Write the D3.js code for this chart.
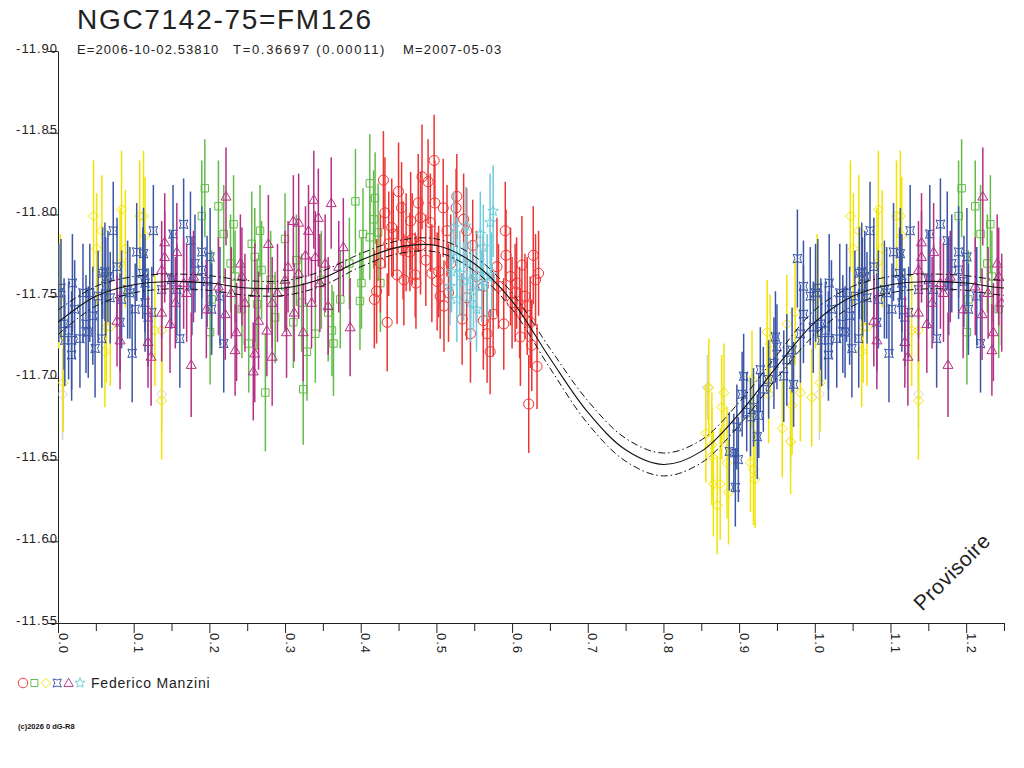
<!DOCTYPE html>
<html>
<head>
<meta charset="utf-8">
<script src="https://cdn.jsdelivr.net/npm/d3@7"></script>
<style>
	body { margin: 0; background: #fff; }
	text { font-family: "Liberation Sans", Arial, sans-serif; }
</style>
</head>
<body>
<svg id="chart" width="1024" height="768"></svg>
<script>
// ---- texts / ticks
const titleText = "NGC7142-75=FM126"
const subtitleParts = ["E=2006-10-02.53810", "T=0.36697 (0.00011)", "M=2007-05-03"]
const observerName = "Federico Manzini"
const copyText = "(c)2026 0 dG-R8"
const stampText = "Provisoire"
const yTicks = [-11.90, -11.85, -11.80, -11.75, -11.70, -11.65, -11.60, -11.55]
const xTicks = [0.0, 0.1, 0.2, 0.3, 0.4, 0.5, 0.6, 0.7, 0.8, 0.9, 1.0, 1.1, 1.2]
const xMinorTicks = [0.05, 0.15, 0.25, 0.35, 0.45, 0.55, 0.65, 0.75, 0.85, 0.95, 1.05, 1.15, 1.25]

// ---- model curve (phase, mag) + its two limits
const modelPhase = [0.00, 0.05, 0.10, 0.15, 0.20, 0.25, 0.30, 0.35, 0.40, 0.45,
	0.50, 0.55, 0.60, 0.65, 0.70, 0.75, 0.80, 0.85, 0.90, 0.95]
const modelMid = [-11.734, -11.750, -11.757, -11.759, -11.758, -11.755, -11.755, -11.761, -11.772, -11.780,
	-11.781, -11.770, -11.747, -11.712, -11.679, -11.656, -11.647, -11.655, -11.678, -11.707]
const modelBright = [-11.7415, -11.756, -11.762, -11.7635, -11.7625, -11.7595, -11.7595, -11.7655, -11.776, -11.784,
	-11.785, -11.7745, -11.752, -11.718, -11.686, -11.663, -11.654, -11.662, -11.685, -11.714]
const modelFaint = [-11.7265, -11.744, -11.752, -11.7545, -11.7535, -11.7505, -11.7505, -11.7565, -11.768, -11.776,
	-11.777, -11.7655, -11.742, -11.706, -11.672, -11.649, -11.640, -11.648, -11.671, -11.700]

// ---- observations [phase, mag, error]
const grayPts = [[0.006, -11.690, 0.028], [0.137, -11.690, 0.022], [0.858, -11.694, 0.020],
	[0.968, -11.661, 0.018], [0.245, -11.745, 0.025]]

const yellowPts = [[0.047, -11.799, 0.034], [0.084, -11.803, 0.036], [0.108, -11.799, 0.034], [0.113, -11.799, 0.040],
	[0.058, -11.790, 0.034], [0.115, -11.787, 0.036], [0.051, -11.779, 0.034], [0.089, -11.779, 0.036],
	[0.064, -11.731, 0.034], [0.069, -11.731, 0.036], [0.062, -11.716, 0.034], [0.007, -11.697, 0.030],
	[0.137, -11.686, 0.036], [0.128, -11.729, 0.034], [0.137, -11.729, 0.036], [0.001, -11.748, 0.030],
	[0.003, -11.756, 0.032], [0.082, -11.770, 0.034],
	[0.860, -11.694, 0.030], [0.856, -11.666, 0.030], [0.877, -11.682, 0.032], [0.880, -11.691, 0.030],
	[0.864, -11.659, 0.032], [0.864, -11.652, 0.030], [0.884, -11.648, 0.034], [0.866, -11.635, 0.032],
	[0.875, -11.635, 0.034], [0.871, -11.622, 0.030], [0.886, -11.630, 0.032], [0.915, -11.648, 0.030],
	[0.919, -11.644, 0.034], [0.921, -11.638, 0.030], [0.937, -11.728, 0.032], [0.941, -11.721, 0.030],
	[0.939, -11.690, 0.030], [0.963, -11.733, 0.030], [0.974, -11.740, 0.032], [0.981, -11.691, 0.030],
	[0.970, -11.683, 0.030], [0.957, -11.669, 0.030], [0.968, -11.661, 0.032], [0.996, -11.688, 0.030],
	[0.917, -11.699, 0.030]]

const greenPts = [[0.194, -11.816, 0.030], [0.212, -11.805, 0.028], [0.190, -11.799, 0.034], [0.232, -11.794, 0.030],
	[0.267, -11.790, 0.028], [0.219, -11.788, 0.030], [0.256, -11.782, 0.032], [0.300, -11.785, 0.028],
	[0.260, -11.774, 0.030], [0.269, -11.766, 0.030], [0.234, -11.762, 0.028], [0.203, -11.748, 0.030],
	[0.201, -11.728, 0.032], [0.311, -11.734, 0.028], [0.329, -11.716, 0.030], [0.324, -11.693, 0.034],
	[0.274, -11.691, 0.036], [0.252, -11.721, 0.030], [0.287, -11.737, 0.028], [0.340, -11.727, 0.030],
	[0.300, -11.756, 0.028], [0.322, -11.746, 0.030], [0.362, -11.729, 0.028], [0.412, -11.819, 0.030],
	[0.393, -11.808, 0.032], [0.419, -11.810, 0.028], [0.417, -11.797, 0.030], [0.403, -11.788, 0.028],
	[0.423, -11.789, 0.030], [0.412, -11.786, 0.026], [0.426, -11.758, 0.030], [0.401, -11.758, 0.028],
	[0.399, -11.747, 0.030], [0.364, -11.721, 0.032], [0.373, -11.748, 0.030], [0.243, -11.742, 0.030],
	[0.281, -11.760, 0.030], [0.315, -11.772, 0.028], [0.348, -11.760, 0.030], [0.385, -11.770, 0.028],
	[0.228, -11.770, 0.030], [0.263, -11.745, 0.028], [0.357, -11.740, 0.030]]

const bluePts = [[0.073, -11.790, 0.030], [0.126, -11.790, 0.028], [0.152, -11.788, 0.030], [0.166, -11.794, 0.028],
	[0.175, -11.784, 0.030], [0.104, -11.777, 0.030], [0.113, -11.776, 0.028], [0.062, -11.765, 0.030],
	[0.078, -11.768, 0.030], [0.066, -11.762, 0.028], [0.019, -11.758, 0.030], [0.033, -11.752, 0.030],
	[0.053, -11.750, 0.028], [0.042, -11.752, 0.030], [0.001, -11.752, 0.030], [0.022, -11.742, 0.030],
	[0.102, -11.742, 0.028], [0.082, -11.734, 0.030], [0.119, -11.737, 0.030], [0.014, -11.729, 0.030],
	[0.009, -11.723, 0.028], [0.018, -11.723, 0.030], [0.029, -11.724, 0.030], [0.040, -11.728, 0.028],
	[0.058, -11.724, 0.030], [0.049, -11.718, 0.030], [0.018, -11.714, 0.028], [0.098, -11.715, 0.030],
	[0.161, -11.724, 0.030], [0.124, -11.740, 0.028], [0.181, -11.770, 0.030], [0.190, -11.777, 0.028],
	[0.201, -11.774, 0.030], [0.190, -11.766, 0.030], [0.197, -11.759, 0.028], [0.177, -11.756, 0.030],
	[0.150, -11.760, 0.030], [0.157, -11.754, 0.028], [0.137, -11.754, 0.030], [0.115, -11.758, 0.030],
	[0.095, -11.752, 0.028], [0.084, -11.748, 0.030], [0.115, -11.746, 0.030], [0.069, -11.749, 0.028],
	[0.219, -11.721, 0.030], [0.214, -11.750, 0.030], [0.203, -11.742, 0.028], [0.004, -11.755, 0.030],
	[0.059, -11.764, 0.028], [0.063, -11.756, 0.030], [0.092, -11.754, 0.030], [0.112, -11.764, 0.028],
	[0.046, -11.738, 0.030], [0.037, -11.733, 0.030], [0.008, -11.733, 0.028],
	[0.895, -11.633, 0.024], [0.899, -11.650, 0.026], [0.893, -11.654, 0.024], [0.897, -11.670, 0.026],
	[0.915, -11.676, 0.024], [0.926, -11.677, 0.026], [0.910, -11.679, 0.024], [0.904, -11.690, 0.026],
	[0.919, -11.682, 0.024], [0.932, -11.693, 0.026], [0.939, -11.699, 0.024], [0.928, -11.705, 0.026],
	[0.946, -11.709, 0.028], [0.950, -11.719, 0.026], [0.963, -11.711, 0.028], [0.970, -11.717, 0.026],
	[0.959, -11.701, 0.028], [0.972, -11.696, 0.026], [0.948, -11.725, 0.028], [0.985, -11.739, 0.030],
	[0.998, -11.731, 0.028], [0.994, -11.750, 0.030], [0.985, -11.756, 0.028], [0.981, -11.727, 0.030],
	[0.887, -11.655, 0.024], [0.906, -11.701, 0.026], [0.924, -11.664, 0.026], [0.977, -11.773, 0.030]]

const purplePts = [[0.222, -11.811, 0.030], [0.338, -11.809, 0.030], [0.361, -11.807, 0.028], [0.344, -11.798, 0.030],
	[0.311, -11.796, 0.028], [0.318, -11.795, 0.030], [0.331, -11.790, 0.028], [0.278, -11.782, 0.030],
	[0.241, -11.770, 0.030], [0.340, -11.774, 0.028], [0.327, -11.775, 0.030], [0.304, -11.768, 0.028],
	[0.353, -11.770, 0.030], [0.318, -11.764, 0.028], [0.300, -11.760, 0.030], [0.260, -11.752, 0.030],
	[0.283, -11.746, 0.028], [0.247, -11.746, 0.030], [0.221, -11.739, 0.028], [0.212, -11.756, 0.030],
	[0.141, -11.783, 0.030], [0.141, -11.774, 0.028], [0.157, -11.777, 0.030], [0.137, -11.766, 0.030],
	[0.166, -11.758, 0.028], [0.148, -11.733, 0.030], [0.119, -11.722, 0.028], [0.123, -11.713, 0.030],
	[0.176, -11.708, 0.032], [0.236, -11.728, 0.030], [0.234, -11.717, 0.028], [0.260, -11.715, 0.030],
	[0.276, -11.729, 0.028], [0.283, -11.713, 0.030], [0.258, -11.704, 0.030], [0.302, -11.728, 0.028],
	[0.324, -11.728, 0.030], [0.335, -11.746, 0.028], [0.357, -11.744, 0.030], [0.243, -11.762, 0.030],
	[0.179, -11.762, 0.028], [0.170, -11.752, 0.030], [0.137, -11.740, 0.030], [0.155, -11.746, 0.028],
	[0.377, -11.780, 0.030], [0.371, -11.768, 0.028], [0.386, -11.731, 0.030], [0.082, -11.723, 0.030],
	[0.078, -11.735, 0.028], [0.290, -11.752, 0.030], [0.265, -11.735, 0.030], [0.229, -11.752, 0.028],
	[0.312, -11.740, 0.030], [0.346, -11.758, 0.030], [0.196, -11.742, 0.030]]

const redPts = [[0.430, -11.821, 0.030], [0.497, -11.833, 0.028], [0.450, -11.814, 0.030], [0.481, -11.823, 0.032],
	[0.489, -11.820, 0.026], [0.432, -11.801, 0.034], [0.454, -11.804, 0.028], [0.476, -11.807, 0.030],
	[0.498, -11.807, 0.026], [0.509, -11.804, 0.030], [0.527, -11.811, 0.026], [0.526, -11.804, 0.024],
	[0.479, -11.798, 0.028], [0.492, -11.795, 0.030], [0.441, -11.792, 0.030], [0.443, -11.788, 0.026],
	[0.468, -11.785, 0.028], [0.479, -11.781, 0.030], [0.465, -11.777, 0.024], [0.456, -11.778, 0.030],
	[0.448, -11.763, 0.030], [0.472, -11.763, 0.026], [0.473, -11.758, 0.028], [0.494, -11.764, 0.030],
	[0.503, -11.765, 0.028], [0.501, -11.759, 0.030], [0.505, -11.750, 0.026], [0.510, -11.744, 0.028],
	[0.435, -11.734, 0.030], [0.421, -11.753, 0.032], [0.426, -11.770, 0.030], [0.514, -11.790, 0.028],
	[0.540, -11.790, 0.026], [0.591, -11.790, 0.030], [0.592, -11.775, 0.028], [0.628, -11.775, 0.030],
	[0.635, -11.764, 0.026], [0.631, -11.760, 0.028], [0.613, -11.769, 0.030], [0.580, -11.768, 0.030],
	[0.606, -11.758, 0.028], [0.617, -11.750, 0.026], [0.620, -11.744, 0.030], [0.624, -11.734, 0.028],
	[0.611, -11.725, 0.030], [0.626, -11.720, 0.028], [0.633, -11.707, 0.026], [0.622, -11.684, 0.030],
	[0.571, -11.716, 0.026], [0.545, -11.727, 0.030], [0.534, -11.736, 0.028], [0.562, -11.735, 0.030],
	[0.575, -11.739, 0.026], [0.589, -11.733, 0.028], [0.567, -11.727, 0.030], [0.600, -11.746, 0.028],
	[0.604, -11.752, 0.030], [0.582, -11.756, 0.026], [0.553, -11.762, 0.028], [0.562, -11.756, 0.030],
	[0.540, -11.749, 0.026], [0.516, -11.752, 0.030], [0.536, -11.797, 0.028], [0.418, -11.748, 0.030],
	[0.460, -11.783, 0.030], [0.486, -11.772, 0.028], [0.519, -11.770, 0.030], [0.548, -11.781, 0.028],
	[0.598, -11.762, 0.030], [0.610, -11.740, 0.028], [0.466, -11.796, 0.030], [0.437, -11.782, 0.032],
	[0.457, -11.760, 0.028]]

const cyanPts = [[0.523, -11.792, 0.022], [0.539, -11.793, 0.024], [0.558, -11.788, 0.026], [0.571, -11.795, 0.030],
	[0.575, -11.802, 0.028], [0.562, -11.780, 0.026], [0.527, -11.774, 0.024], [0.540, -11.770, 0.022],
	[0.520, -11.765, 0.024], [0.531, -11.764, 0.026], [0.545, -11.760, 0.024], [0.553, -11.762, 0.022],
	[0.567, -11.762, 0.026], [0.518, -11.756, 0.024], [0.527, -11.748, 0.026], [0.545, -11.746, 0.024],
	[0.553, -11.742, 0.026], [0.560, -11.756, 0.022], [0.549, -11.753, 0.024], [0.536, -11.759, 0.024],
	[0.573, -11.763, 0.026]]

// ---- layout and styles
const params = {
	width: 1024, height: 768,
	left: 58, right: 1004, top: 51, bottom: 623,
	ink: "#222"
}

const starPath = (outer, inner) => {
	let pts = []
	for (let i = 0; i < 10; i++) {
		const r = i % 2 ? inner : outer
		const a = -Math.PI / 2 + i * Math.PI / 5
		pts.push([r * Math.cos(a), r * Math.sin(a)])
	}
	return "M" + pts.map(p => p[0].toFixed(2) + "," + p[1].toFixed(2)).join("L") + "Z"
}

const shapes = {
	circle: d3.symbol(d3.symbolCircle, 80)(),
	square: "M-3.7,-3.7H3.7V3.7H-3.7Z",
	diamond: "M0,-5L5,0L0,5L-5,0Z",
	hourglass: "M-4.3,-4.3L0,-3.2L4.3,-4.3L2.6,0L4.3,4.3L0,3.2L-4.3,4.3L-2.6,0Z",
	triangle: "M0,-5L5,3.6H-5Z",
	star: starPath(5.6, 2.4)
}

// drawing order (first is at the bottom)
const series = [
	{ data: grayPts, color: "#d2d2d2", shape: "diamond" },
	{ data: yellowPts, color: "#f2e400", shape: "diamond" },
	{ data: greenPts, color: "#62bb48", shape: "square" },
	{ data: bluePts, color: "#3a55a6", shape: "hourglass" },
	{ data: purplePts, color: "#b52f85", shape: "triangle" },
	{ data: redPts, color: "#ee3333", shape: "circle" },
	{ data: cyanPts, color: "#6ccbdc", shape: "star" }
]
const legendOrder = [5, 2, 1, 3, 4, 6]

const svg = d3.select("#chart")

const xScale = d3.scaleLinear().domain([0, 1.25]).range([params.left, params.right])
const yScale = d3.scaleLinear().domain([-11.90, -11.55]).range([params.top, params.bottom])

svg.append("clipPath").attr("id", "plotclip")
	.append("rect")
	.attr("x", params.left).attr("y", params.top)
	.attr("width", params.right - params.left).attr("height", params.bottom - params.top)

// ---- axes
const addAxes = () => {
	const yAxis = svg.append("g")
		.attr("transform", `translate(${params.left},0)`)
		.call(d3.axisLeft(yScale).tickValues(yTicks).tickSize(10).tickSizeOuter(0)
			.tickFormat(d => d.toFixed(2)))
	yAxis.selectAll("text")
		.attr("x", 0).attr("dy", "1")
		.attr("font-size", 13).attr("letter-spacing", 1)
		.attr("font-family", null).attr("fill", params.ink)

	const xAxis = svg.append("g")
		.attr("transform", `translate(0,${params.bottom})`)
		.call(d3.axisBottom(xScale).tickValues(xTicks).tickSize(10).tickSizeOuter(0)
			.tickFormat(d => d.toFixed(1)))
	xAxis.selectAll("text")
		.attr("y", 0).attr("dy", null)
		.attr("transform", "translate(0,10) rotate(90)")
		.attr("text-anchor", "start")
		.attr("font-size", 13).attr("letter-spacing", 1)
		.attr("font-family", null).attr("fill", params.ink)

	svg.append("g")
		.attr("transform", `translate(0,${params.bottom})`)
		.call(d3.axisBottom(xScale).tickValues(xMinorTicks).tickSize(8).tickSizeOuter(0).tickFormat(""))
		.select(".domain").remove()

	svg.selectAll(".domain, .tick line").attr("stroke", params.ink)
}

// ---- observations with error bars; phases < 0.25 also shown one cycle later
const addPoints = () => {
	const plot = svg.append("g").attr("clip-path", "url(#plotclip)")
	series.forEach(s => {
		const pts = s.data.map(d => ({ ph: d[0], mag: d[1], err: d[2] }))
		s.data.filter(d => d[0] + 1 <= 1.25).forEach(d => pts.push({ ph: d[0] + 1, mag: d[1], err: d[2] }))
		const g = plot.append("g")
		g.selectAll("line")
			.data(pts)
			.join("line")
			.attr("x1", d => xScale(d.ph)).attr("x2", d => xScale(d.ph))
			.attr("y1", d => yScale(d.mag - d.err)).attr("y2", d => yScale(d.mag + d.err))
			.attr("stroke", s.color).attr("stroke-width", 1.5)
		g.selectAll("path")
			.data(pts)
			.join("path")
			.attr("d", shapes[s.shape])
			.attr("transform", d => `translate(${xScale(d.ph)},${yScale(d.mag)})`)
			.attr("fill", "none").attr("stroke", s.color).attr("stroke-width", 1)
	})
}

// ---- model curve
const addModel = () => {
	const extend = (vals) => {
		const pts = modelPhase.map((p, i) => [p, vals[i]])
		modelPhase.forEach((p, i) => { if (p <= 0.35) pts.push([p + 1, vals[i]]) })
		return pts
	}
	const line = d3.line()
		.x(d => xScale(d[0]))
		.y(d => yScale(d[1]))
		.curve(d3.curveCatmullRom.alpha(0.5))
	const g = svg.append("g").attr("clip-path", "url(#plotclip)").attr("fill", "none").attr("stroke", "#111")
	g.append("path").attr("d", line(extend(modelBright)))
		.attr("stroke-width", 1).attr("stroke-dasharray", "7,3,1.5,3")
	g.append("path").attr("d", line(extend(modelFaint)))
		.attr("stroke-width", 1).attr("stroke-dasharray", "7,3,1.5,3")
	g.append("path").attr("d", line(extend(modelMid)))
		.attr("stroke-width", 1.1)
}

// ---- titles, legend, stamp
const addTexts = () => {
	svg.append("text")
		.attr("x", 77).attr("y", 29)
		.attr("font-size", 28).attr("letter-spacing", 1.7)
		.attr("fill", params.ink)
		.text(titleText)

	const subX = [77, 233, 403]
	const subSpacing = [1.1, 1.7, 1.2]
	subtitleParts.forEach((t, i) => {
		svg.append("text")
			.attr("x", subX[i]).attr("y", 54)
			.attr("font-size", 13).attr("letter-spacing", subSpacing[i])
			.attr("fill", params.ink)
			.text(t)
	})

	const leg = svg.append("g")
	legendOrder.forEach((k, i) => {
		const s = series[k]
		leg.append("path")
			.attr("d", shapes[s.shape])
			.attr("transform", `translate(${23 + i * 11.4},683) scale(0.95)`)
			.attr("fill", "none").attr("stroke", s.color).attr("stroke-width", 1)
	})
	leg.append("text")
		.attr("x", 91).attr("y", 688)
		.attr("font-size", 14).attr("letter-spacing", 0.8)
		.attr("fill", params.ink)
		.text(observerName)

	svg.append("text")
		.attr("x", 18).attr("y", 729)
		.attr("font-size", 7.5).attr("font-weight", "bold")
		.attr("fill", "#111")
		.text(copyText)

	svg.append("text")
		.attr("transform", "translate(957,577) rotate(-45)")
		.attr("text-anchor", "middle")
		.attr("font-size", 21).attr("letter-spacing", 0.5)
		.attr("fill", params.ink)
		.text(stampText)
}

addAxes()
addPoints()
addModel()
addTexts()
</script>
</body>
</html>
